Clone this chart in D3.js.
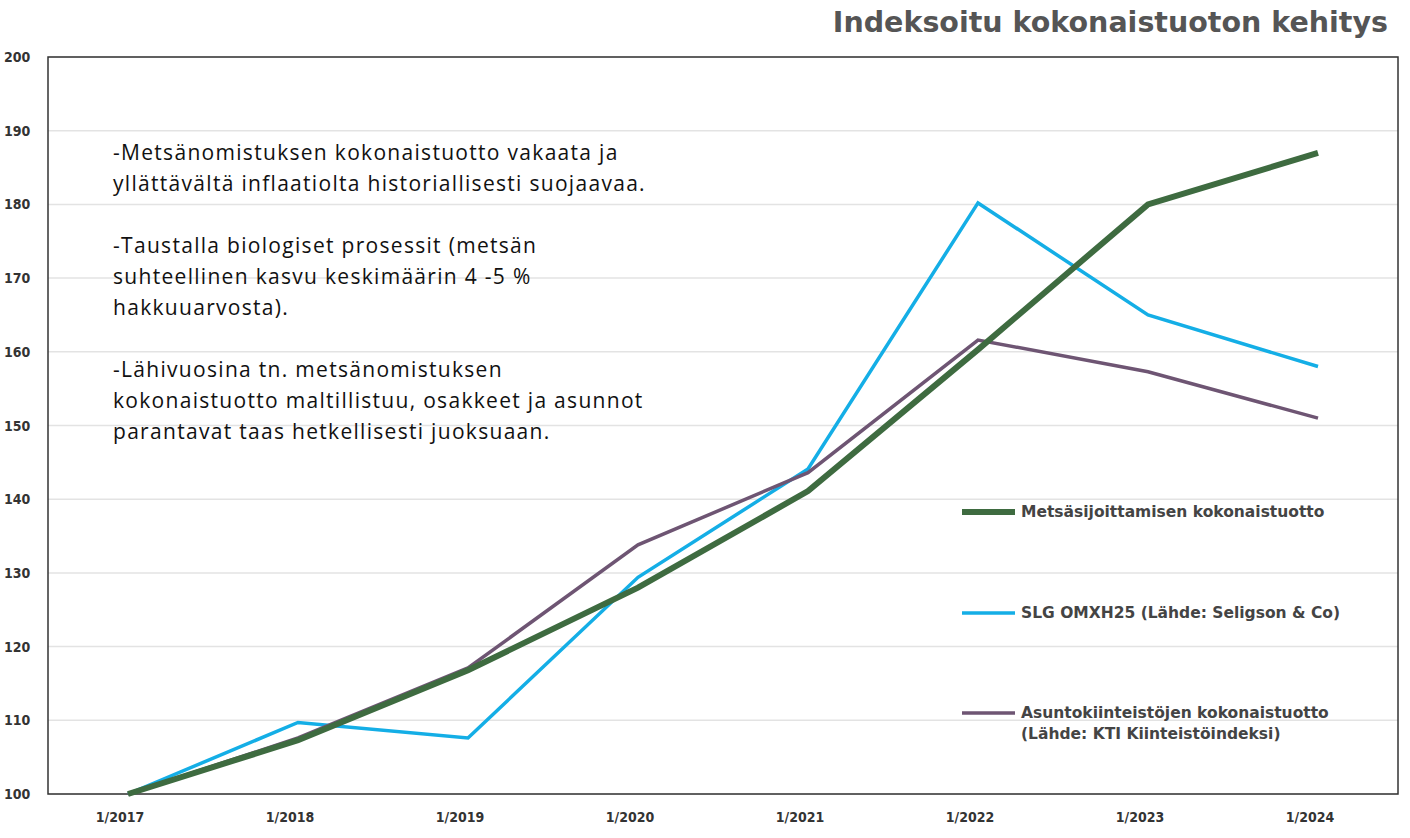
<!DOCTYPE html><html><head><meta charset="utf-8">
<script src="https://cdn.jsdelivr.net/npm/d3@7"></script>
<style>body{margin:0;background:#fff}</style></head><body>
<script>
const categories=["1/2017","1/2018","1/2019","1/2020","1/2021","1/2022","1/2023","1/2024"];
const forest=[100,107.3,116.8,128,141.1,160.3,180,187];
const omxh=[100,109.7,107.6,129.4,144.1,180.2,165,158];
const housing=[100,107.6,117.1,133.8,143.6,161.6,157.3,151];
const yTicks=[100,110,120,130,140,150,160,170,180,190,200];
const seriesNames=["Metsäsijoittamisen kokonaistuotto","SLG OMXH25 (Lähde: Seligson & Co)","Asuntokiinteistöjen kokonaistuotto|(Lähde: KTI Kiinteistöindeksi)"];
const colors=["#3e6b40","#14aee6","#6e5573"];
const notes=[["-Metsänomistuksen kokonaistuotto vakaata ja","yllättävältä inflaatiolta historiallisesti suojaavaa."],["-Taustalla biologiset prosessit (metsän","suhteellinen kasvu keskimäärin 4 -5 %","hakkuuarvosta)."],["-Lähivuosina tn. metsänomistuksen","kokonaistuotto maltillistuu, osakkeet ja asunnot","parantavat taas hetkellisesti juoksuaan."]];
const W=1410,H=838,L=48,R=1398,T=57,B=794;
const svg=d3.select("body").append("svg").attr("width",W).attr("height",H);
const x=d3.scalePoint().domain(categories).range([128,1318]);
const y=d3.scaleLinear().domain([100,200]).range([B,T]);
svg.append("g").selectAll("line").data(yTicks).join("line").attr("x1",L).attr("x2",R).attr("y1",d=>y(d)).attr("y2",d=>y(d)).attr("stroke","#e3e3e3").attr("stroke-width",1.5);
svg.append("rect").attr("x",L).attr("y",T).attr("width",R-L).attr("height",B-T).attr("fill","none").attr("stroke","#333").attr("stroke-width",1.5);
const f="'DejaVu Sans Condensed','DejaVu Sans',sans-serif";
const f2="'DejaVu Sans',sans-serif";
svg.append("g").selectAll("text").data(yTicks).join("text").attr("x",4).attr("y",d=>y(d)+5).text(d=>d).attr("font-family",f).attr("font-weight","bold").attr("font-size",14).attr("fill","#333");
svg.append("g").selectAll("text").data(categories).join("text").attr("x",d=>x(d)-8).attr("y",822).attr("text-anchor","middle").text(d=>d).attr("font-family",f).attr("font-weight","bold").attr("font-size",14).attr("fill","#333");
svg.append("text").attr("x",1388).attr("y",32).attr("text-anchor","end").text("Indeksoitu kokonaistuoton kehitys").attr("font-family",f2).attr("font-weight","bold").attr("font-size",28.5).attr("fill","#555");
const line=d3.line().x((d,i)=>x(categories[i])).y(d=>y(d));
[[omxh,1,3.5],[housing,2,3.5],[forest,0,6]].forEach(([s,i,w])=>svg.append("path").attr("d",line(s)).attr("fill","none").attr("stroke",colors[i]).attr("stroke-width",w));
const ly=[512,613,713];
seriesNames.forEach((n,i)=>{svg.append("line").attr("x1",962).attr("x2",1015).attr("y1",ly[i]).attr("y2",ly[i]).attr("stroke",colors[i]).attr("stroke-width",i==0?6:3.5);
 n.split("|").forEach((t,j)=>svg.append("text").attr("x",1021).attr("y",ly[i]+5+j*21).text(t).attr("font-family",f2).attr("font-weight","bold").attr("font-size",15.5).attr("fill","#444"));});
let yy=160;
notes.forEach(p=>{p.forEach(t=>{svg.append("text").attr("x",113).attr("y",yy).text(t).attr("font-family","'Open Sans',sans-serif").attr("font-size",21).attr("letter-spacing",1.3).attr("fill","#111");yy+=31;});yy+=31;});
</script></body></html>
